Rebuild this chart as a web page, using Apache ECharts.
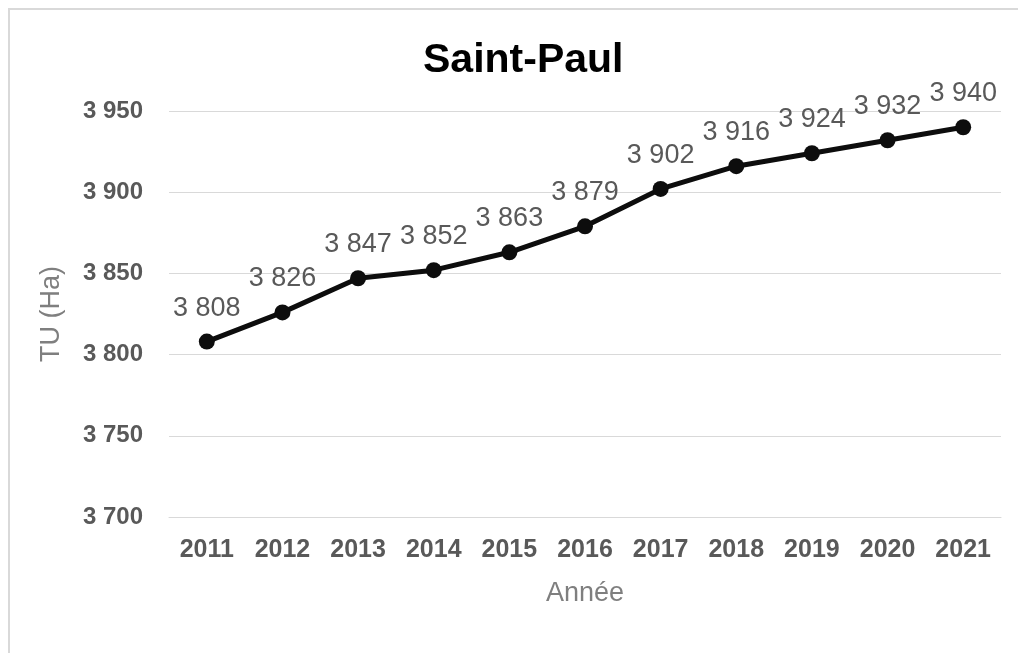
<!DOCTYPE html>
<html><head><meta charset="utf-8">
<script src="https://cdn.jsdelivr.net/npm/echarts@6/dist/echarts.min.js"></script>
<style>html,body{margin:0;padding:0;background:#fff}#frame{position:absolute;left:8px;top:8px;width:1020px;height:655px;border:2px solid #d9d9d9;box-sizing:border-box}#c{width:1018px;height:653px;position:absolute;left:0;top:0}</style>
</head><body><div id="frame"></div><div id="c"></div>
<script>
const years = ['2011','2012','2013','2014','2015','2016','2017','2018','2019','2020','2021'];
const tuHa = [3808,3826,3847,3852,3863,3879,3902,3916,3924,3932,3940];
const title = 'Saint-Paul';
const fmt = v => { const s = String(Math.round(v)); return s.replace(/\B(?=(\d{3})+(?!\d))/g, ' '); };
const chart = echarts.init(document.getElementById('c'), null, {renderer:'canvas'});
chart.setOption({
  animation:false,
  textStyle:{fontFamily:'Liberation Sans, Arial, sans-serif'},
  title:{text:title,left:418,top:35,textStyle:{fontSize:41,fontWeight:'bold',color:'#000',fontFamily:'Liberation Sans, Arial, sans-serif'}},
  grid:{left:169,right:17,top:111,bottom:136,containLabel:false},
  xAxis:{type:'category',data:years,boundaryGap:true,
    name:'Année',nameLocation:'middle',nameGap:63,nameTextStyle:{fontSize:27,color:'#7f7f7f'},
    axisLine:{show:true,lineStyle:{color:'#d9d9d9',width:1}},axisTick:{show:false},
    axisLabel:{fontSize:25,fontWeight:'bold',color:'#595959',margin:21}},
  yAxis:{type:'value',min:3700,max:3950,interval:50,
    name:'TU (Ha)',nameLocation:'middle',nameGap:104,nameRotate:90,nameTextStyle:{fontSize:27,color:'#7f7f7f'},
    axisLine:{show:false},axisTick:{show:false},
    splitLine:{lineStyle:{color:'#d9d9d9',width:1}},
    axisLabel:{fontSize:24,fontWeight:'bold',color:'#595959',margin:26,formatter:fmt}},
  series:[{type:'line',data:tuHa,symbol:'circle',symbolSize:16,
    lineStyle:{color:'#0d0d0d',width:5},itemStyle:{color:'#0d0d0d'},
    label:{show:true,position:'top',distance:12,fontSize:27,color:'#595959',formatter:p=>fmt(p.value)}}]
});
</script></body></html>
